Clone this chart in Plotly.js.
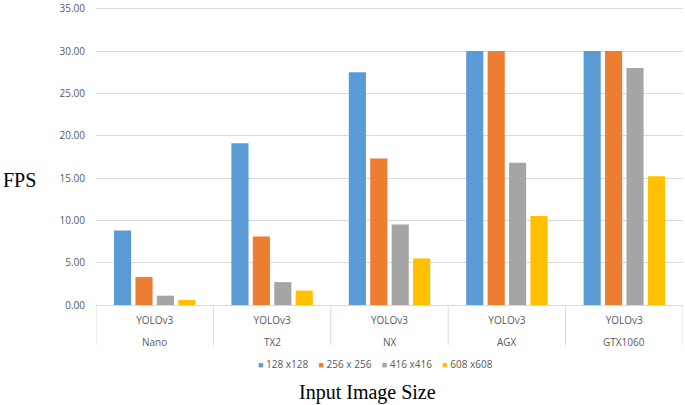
<!DOCTYPE html>
<html>
<head>
<meta charset="utf-8">
<script src="https://cdn.plot.ly/plotly-3.0.1.min.js"></script>
<style>html,body{margin:0;padding:0;background:#fff}#chart{width:685px;height:405px}</style>
</head>
<body>
<div id="chart"></div>
<script>
const devices = ["Nano", "TX2", "NX", "AGX", "GTX1060"];
const model = ["YOLOv3", "YOLOv3", "YOLOv3", "YOLOv3", "YOLOv3"];
const seriesNames = ["128 x128", "256 x 256", "416 x416", "608 x608"];
const yTicks = [0, 5, 10, 15, 20, 25, 30, 35];
const fps128 = [8.8, 19.1, 27.5, 30.0, 30.0];
const fps256 = [3.3, 8.1, 17.3, 30.0, 30.0];
const fps416 = [1.1, 2.7, 9.5, 16.8, 28.0];
const fps608 = [0.6, 1.7, 5.5, 10.5, 15.2];
const colors = ["#5B9BD5", "#ED7D31", "#A5A5A5", "#FFC000"];

const allSeries = [fps128, fps256, fps416, fps608];
const traces = allSeries.map((vals, i) => ({
  type: "bar",
  name: seriesNames[i],
  x: devices,
  y: vals,
  marker: {color: colors[i], line: {width: 0}},
  showlegend: false,
  hoverinfo: "y"
}));

const labelFont = {family: "Open Sans, sans-serif", size: 10, color: "#595959"};

// legend row, built from series names and colours
const legendText = seriesNames.map((n, i) =>
  '<span style="color:' + colors[i] + ';font-size:9px">\u25A0</span>\u00a0' + n
).join("\u00a0\u00a0\u00a0\u00a0");

const annotations = [
  {text: "FPS", xref: "paper", yref: "paper", x: -0.13, y: 0.42, xanchor: "center", yanchor: "middle",
   showarrow: false, font: {family: "Liberation Serif, Times New Roman, serif", size: 20, color: "#000"}},
  {text: "Input Image Size", xref: "paper", yref: "paper", x: 0.462, y: -0.292, xanchor: "center", yanchor: "middle",
   showarrow: false, font: {family: "Liberation Serif, Times New Roman, serif", size: 20, color: "#000"}},
  {text: legendText, xref: "paper", yref: "paper", x: 0.477, y: -0.198, xanchor: "center", yanchor: "middle",
   showarrow: false, font: labelFont}
];
devices.forEach(d => annotations.push({
  text: d, xref: "x", yref: "paper", x: d, y: -0.124, xanchor: "center", yanchor: "middle",
  showarrow: false, font: labelFont
}));

// category separators of the two-level axis table
const shapes = [];
for (let i = 0; i <= devices.length; i++) {
  shapes.push({type: "line", xref: "x", yref: "paper", x0: i - 0.5, x1: i - 0.5, y0: 0, y1: -0.135,
    line: {color: "#d9d9d9", width: 1}});
}

const layout = {
  width: 685, height: 405,
  margin: {l: 96, r: 2, t: 7, b: 100},
  paper_bgcolor: "#ffffff",
  plot_bgcolor: "#ffffff",
  font: labelFont,
  barmode: "group",
  bargap: 0.27,
  bargroupgap: 0.2,
  showlegend: false,
  xaxis: {
    type: "category",
    range: [-0.5, devices.length - 0.5],
    tickvals: devices, ticktext: model,
    showline: true, linecolor: "#d9d9d9", linewidth: 1,
    ticks: "", showgrid: false,
    ticklabelstandoff: 6,
    tickfont: labelFont
  },
  yaxis: {
    range: [0, 35.2], tickvals: yTicks, tickformat: ".2f",
    showgrid: true, gridcolor: "#d9d9d9", gridwidth: 1,
    zeroline: false, showline: false, ticks: "",
    ticklabelstandoff: 10, ticklabeloverflow: "allow",
    tickfont: labelFont
  },
  shapes: shapes,
  annotations: annotations
};

Plotly.newPlot("chart", traces, layout, {displayModeBar: false, staticPlot: true});
</script>
</body>
</html>
